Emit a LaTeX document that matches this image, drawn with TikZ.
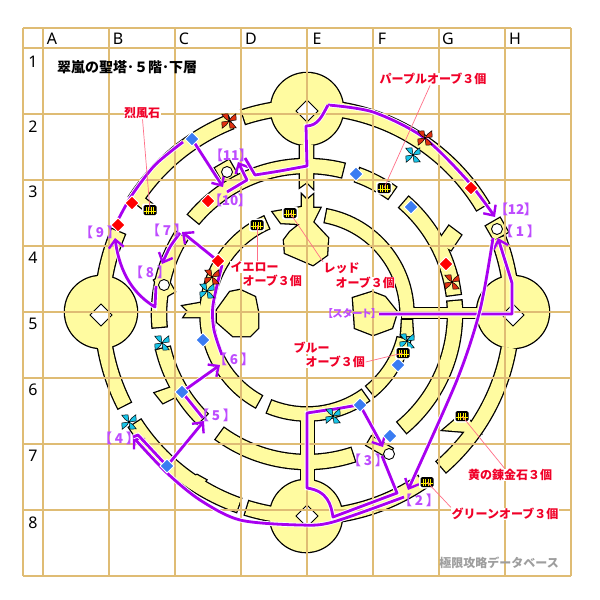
\documentclass[tikz,border=0pt]{standalone}
\usepackage{fontspec}
\setmainfont{Noto Sans}
\newfontfamily\cjk[RawFeature=+palt]{Noto Sans CJK JP}
\newfontfamily\cjkfull{Noto Sans CJK JP}
\usetikzlibrary{arrows.meta}
\definecolor{gridtan}{HTML}{DFBC74}
\definecolor{roomyellow}{HTML}{FFFBA0}
\definecolor{routepurple}{HTML}{A800F0}
\definecolor{labelpurple}{HTML}{BE4CFF}
\definecolor{gemblue}{HTML}{3A7CF2}
\definecolor{labelred}{HTML}{F00028}
\definecolor{leaderred}{HTML}{FF7088}
\definecolor{fanred}{HTML}{E03010}
\definecolor{fancyan}{HTML}{18C4E8}
\tikzset{
  room/.style={},
  route/.style={draw=routepurple, line width=2.8pt, line join=round, preaction={draw=white, line width=4.6pt}},
  hop/.style={route, -{Straight Barb[length=8pt,width=15pt,line width=2.4pt]}},
  bluegem/.style={diamond gem, fill=gemblue},
  redgem/.style={diamond gem, fill=red},
  diamond gem/.style={draw=white, line width=.8pt},
  hole/.style={draw=black, fill=white, line width=.8pt},
  stopmark/.style={circle, draw=black, fill=white, line width=.9pt, minimum size=11pt, inner sep=0pt},
  step label/.style={text=labelpurple, font=\cjk\bfseries\fontsize{13.5}{14}\selectfont, inner sep=0pt},
  red label/.style={text=labelred, font=\cjkfull\bfseries\fontsize{12}{13}\selectfont, inner sep=.5pt, fill=white},
  leader/.style={draw=leaderred, line width=.7pt},
  chest/.pic={
    \fill[white, rounded corners=2pt] (-8,-6.5) rectangle (8,6.5);
    \fill[black, rounded corners=1.5pt] (-6.5,-5) rectangle (6.5,5);
    \foreach \x in {-4,-1.5,1,3.5}
      \draw[yellow, line width=1pt] (\x,-3.5)--(\x,3.5);
    \draw[yellow, line width=1pt] (-6,-1.5)--(6,-1.5);
  },
  fan/.pic={
    \foreach \a in {20,110,200,290}
      \filldraw[rotate=\a, fill=#1, draw=black, line width=.5pt] (0,0) .. controls (2,3) and (5,3) .. (9,4.5) -- (7,-1.5) -- cycle;
  }
}
% ring piece: centre y, radius, half width, from angle, to angle
\newcommand{\ringpiece}[5]{
  \path[room, shift={(307,-#1)}] (#4:#2+#3) arc[start angle=#4, end angle=#5, radius=#2+#3]
    -- (#5:#2-#3) arc[start angle=#5, end angle=#4, radius=#2-#3] -- cycle;
}
\newcommand{\floorplan}{
  % four round rooms
  \path[room] (307,-109) circle[radius=36];
  \path[room] (306,-516) circle[radius=36];
  \path[room] (101,-312) circle[radius=36];
  \path[room] (513,-312) circle[radius=36];
  % outer ring
  \ringpiece{312}{205}{7}{31}{82}
  \ringpiece{312}{205}{7}{97}{108}
  \ringpiece{312}{205}{7}{112}{147}
  \ringpiece{312}{205}{7}{157}{172}
  \ringpiece{312}{205}{7}{188}{207}
  \ringpiece{312}{205}{7}{213}{250.5}
  \ringpiece{312}{205}{7}{253}{265}
  \ringpiece{312}{205}{7}{277}{304}
  \ringpiece{312}{205}{7}{311}{350}
  \ringpiece{312}{205}{7}{8}{21}
  % middle ring
  \ringpiece{314}{148}{7}{76}{140}
  \ringpiece{314}{148}{7}{55}{70}
  \ringpiece{314}{148}{7}{7.5}{49}
  \ringpiece{314}{148}{7}{-50}{5}
  \ringpiece{314}{148}{7}{234}{288}
  \ringpiece{314}{148}{7}{193.5}{225}
  \ringpiece{314}{148}{7}{148}{185}
  % inner ring
  \ringpiece{314}{100}{6.5}{0}{79}
  \ringpiece{314}{100}{6.5}{114}{241}
  \ringpiece{314}{100}{6.5}{248}{305.5}
  \ringpiece{314}{100}{6.5}{-50.5}{-14.5}
  % spokes and stubs
  \path[room] (300,-145)--(313,-145)--(313,-188)--(307,-182)--(300,-187)--cycle;
  \path[room] (301,-411)--(314,-411)--(314,-485)--(301,-485)--cycle;
  \path[room] (402,-308)--(482,-308)--(482,-318)--(402,-318)--cycle;
  \path[room] (402,-320)--(412,-320)--(413,-336)--(401,-336)--cycle;
  \path[room] (437,-243)--(451,-250)--(461,-235)--(449,-226)--cycle;
  \path[room] (175,-386)--(155,-393)--(163,-403)--(181,-394)--cycle;
  \path[room] (189,-478)--(197,-475)--(206,-480)--(197,-492)--cycle;
  \path[room] (443,-430)--(456,-419)--(470,-421)--(480,-433)--cycle;
  \path[room] (138,-205)--(143,-197)--(152,-204)--(147,-212)--cycle;
  \path[room] (200,-303)--(183,-306)--(188,-311)--(184,-317)--(204,-317)--cycle;
  % inner rooms
  \path[room] (302,-195)--(307,-200)--(313,-195)--(313,-208)--(320,-208)--(313,-222)--(328,-238)--(327,-255)--(313,-265)--(285,-253)--(284,-240)--(290,-232)--(300,-224)--(281,-223)--(273,-212)--(302,-207)--cycle;
  \path[room] (217,-310)--(230,-292)--(240,-290)--(255,-297)--(258,-312)--(258,-328)--(250,-336)--(233,-336)--(217,-322)--cycle;
  \path[room] (353,-298)--(372,-292)--(385,-297)--(397,-312)--(392,-328)--(373,-335)--(355,-328)--cycle;
  % little squares under the stops
  \path[room, rotate around={-60:(226,-171)}] (218,-179) rectangle (234,-163);
  \path[room, rotate around={30:(164,-285)}] (158,-296) rectangle (170,-276);
  \path[room, rotate around={30:(497,-229)}] (489,-237) rectangle (505,-221);
  \path[room, rotate around={-30:(380,-446)}] (368,-452) rectangle (392,-442);
}
\begin{document}
\begin{tikzpicture}[x=1pt, y=1pt]
\useasboundingbox (0,-600) rectangle (600,0);
\fill[white] (0,-600) rectangle (600,0);
% outline first, fill on top, so the rooms run into one another
\begin{scope}[room/.style={draw=black, line width=2.6pt}]
\floorplan
\end{scope}
\begin{scope}[room/.style={fill=roomyellow}]
\floorplan
\end{scope}
\foreach \x/\y in {307/-111, 307/-516, 101/-315, 513/-315}
{
    \draw[hole] (\x-11,\y)--(\x,\y+11)--(\x+11,\y)--(\x,\y-11)--cycle;
}
% grid
\foreach \x in {23,43,109,175,241,307,373,439,505,571}
{
    \draw[gridtan, line width=1.2pt] (\x,-28)--(\x,-576);
}
\foreach \y in {28,48,114,180,246,312,378,444,510,576}
{
    \draw[gridtan, line width=1.2pt] (23,-\y)--(571,-\y);
}
\foreach \x/\t in {52/A,118/B,184/C,251/D,317/E,382/F,448/G,515/H}
{
    \node[font=\fontsize{16}{16}\selectfont, inner sep=0pt] (col\t) at (\x,-39) {\t};
}
\foreach \y/\t in {62/1,127/2,192/3,258/4,324/5,390/6,456/7,523/8}
{
    \node[font=\fontsize{16}{16}\selectfont, inner sep=0pt] (row\t) at (33,-\y) {\t};
}
\node[font=\cjkfull\bfseries\fontsize{14}{15}\selectfont, anchor=west, inner sep=0pt] (title) at (57,-67) {翠嵐の聖塔･５階･下層};
\node[text=black!38, font=\cjkfull\bfseries\fontsize{12}{14}\selectfont, anchor=east, inner sep=0pt] (credit) at (559,-563) {極限攻略データベース};
% stops on the way
\coordinate (blueA) at (192,-139);
\coordinate (blueB) at (356,-174);
\coordinate (blueC) at (411,-207);
\coordinate (blueD) at (203,-340);
\coordinate (blueE) at (182,-392);
\coordinate (blueF) at (167,-466);
\coordinate (blueG) at (360,-405);
\coordinate (blueH) at (390,-436);
\coordinate (blueI) at (398,-365);
\coordinate (redA) at (132,-203);
\coordinate (redB) at (118,-225);
\coordinate (redC) at (208,-201);
\coordinate (redD) at (218,-261);
\coordinate (redE) at (471,-188);
\coordinate (redF) at (446,-264);
\coordinate (hitOne) at (498,-238);
\coordinate (hitTwo) at (408,-490);
\coordinate (hitThree) at (383,-447);
\coordinate (hitFour) at (133,-437);
\coordinate (hitFive) at (204,-421);
\coordinate (hitSix) at (220,-365);
\coordinate (hitSeven) at (182,-232);
\coordinate (hitEight) at (162,-264);
\coordinate (hitNine) at (115,-238);
\coordinate (hitTen) at (223,-187);
\coordinate (hitEleven) at (238,-162);
\coordinate (hitTwelve) at (495,-217);
% route
\draw[hop] (379,-314)--(512,-314)--(512,-283)--(hitOne);
\draw[hop] plot[smooth] coordinates {(493,-238) (480,-310) (457,-380) (hitTwo)};
\draw[hop] (382,-456)--(397,-493)--(333,-517) .. controls (331,-505) and (328,-491) .. (307,-488)--(307,-413)--(327,-410) .. controls (338,-409) and (350,-406) .. (blueG)--(hitThree);
\draw[hop] plot[smooth] coordinates {(404,-497) (333,-522) (300,-525) (240,-520) (200,-500) (167,-473) (hitFour)};
\draw[route] (hitFour)--(138,-435)--(blueF);
\draw[hop] (blueF)--(hitFive);
\draw[route] (203,-418)--(blueE);
\draw[hop] (blueE)--(hitSix);
\draw[route] plot[smooth] coordinates {(222,-355) (214,-330) (213,-305) (222,-265)};
\draw[hop] (redD)--(hitSeven);
\draw[hop] plot[smooth] coordinates {(180,-233) (170,-247) (hitEight)};
\draw[hop] (156,-286)--(155,-307) .. controls (135,-295) and (120,-275) .. (hitNine);
\draw[route] plot[smooth] coordinates {(118,-220) (132,-195) (155,-165) (183,-142)};
\draw[hop] (blueA)--(hitTen);
\draw[hop] (227,-192)--(247,-180)--(hitEleven);
\draw[hop] plot[smooth] coordinates {(328,-105) (373,-112) (423,-137) (467,-180) (hitTwelve)};
\draw[route] (245,-158)--(255,-175)--(280,-171)--(307,-166)--(306,-126) .. controls (318,-126) and (322,-116) .. (328,-105);
% gems
\foreach \n in {blueA,blueB,blueC,blueD,blueE,blueF,blueG,blueH,blueI}
{
    \draw[bluegem] (\n)++(-7,0)--++(7,7)--++(7,-7)--++(-7,-7)--cycle;
}
\foreach \n in {redA,redB,redC,redD,redE,redF}
{
    \draw[redgem] (\n)++(-7,0)--++(7,7)--++(7,-7)--++(-7,-7)--cycle;
}
% fans
\foreach \x/\y in {229/121,425/138,452/282,212/277}
{
    \pic at (\x,-\y) {fan=fanred};
}
\foreach \x/\y in {413/155,207/291,162/343,129/422,407/341,333/416}
{
    \pic at (\x,-\y) {fan=fancyan};
}
% chests
\coordinate (chestA) at (150,-210);
\coordinate (chestB) at (257,-225);
\coordinate (chestC) at (290,-213);
\coordinate (chestD) at (384,-188);
\coordinate (chestE) at (403,-353);
\coordinate (chestF) at (462,-416);
\coordinate (chestG) at (427,-482);
\foreach \n in {chestA,chestB,chestC,chestD,chestE,chestF,chestG}
{
    \pic at (\n) {chest};
}
\node[stopmark] (stopA) at (227,-172) {};
\node[stopmark] (stopB) at (164,-285) {};
\node[stopmark] (stopC) at (497,-229) {};
\node[stopmark] (stopD) at (389,-454) {};
% step labels
\node[step label] (stepStart) at (352,-314) {\fontsize{10.5}{11}\selectfont【スタート】};
\node[step label] (stepA) at (520,-231) {【 1 】};
\node[step label] (stepB) at (419,-500) {【 2 】};
\node[step label] (stepC) at (368,-460) {【 3 】};
\node[step label] (stepD) at (119,-438) {【 4 】};
\node[step label] (stepE) at (216,-415) {【 5 】};
\node[step label] (stepF) at (234,-359) {【 6 】};
\node[step label] (stepG) at (167,-230) {【 7 】};
\node[step label] (stepH) at (150,-272) {【 8 】};
\node[step label] (stepI) at (100,-232) {【 9 】};
\node[step label] (stepJ) at (230,-200) {【10】};
\node[step label] (stepK) at (231,-155) {【11】};
\node[step label] (stepL) at (516,-209) {【12】};
% red names and their leaders
\node[red label] (nameWind) at (142,-113) {烈風石};
\node[red label] (namePurple) at (433,-79) {パープルオーブ３個};
\node[red label, anchor=west] (nameYellow) at (230,-267) {イエロー};
\node[red label, anchor=west] (nameYellowB) at (242,-281) {オーブ３個};
\node[red label, anchor=west] (nameRed) at (323,-268) {レッド};
\node[red label, anchor=west] (nameRedB) at (335,-283) {オーブ３個};
\node[red label, anchor=west] (nameBlue) at (293,-348) {ブルー};
\node[red label, anchor=west] (nameBlueB) at (305,-362) {オーブ３個};
\node[red label] (nameGold) at (510,-475) {黄の錬金石３個};
\node[red label] (nameGreen) at (505,-514) {グリーンオーブ３個};
\draw[leader] (nameWind)--(chestA);
\draw[leader] (namePurple)--(chestD);
\draw[leader] (nameYellow.north west -| chestB)--(chestB);
\draw[leader] (nameRed.north west)--(chestC);
\draw[leader] (nameBlueB.east)--(chestE);
\draw[leader] (nameGold)--(chestF);
\draw[leader] (nameGreen.north west)--(chestG);
\end{tikzpicture}
\end{document}
